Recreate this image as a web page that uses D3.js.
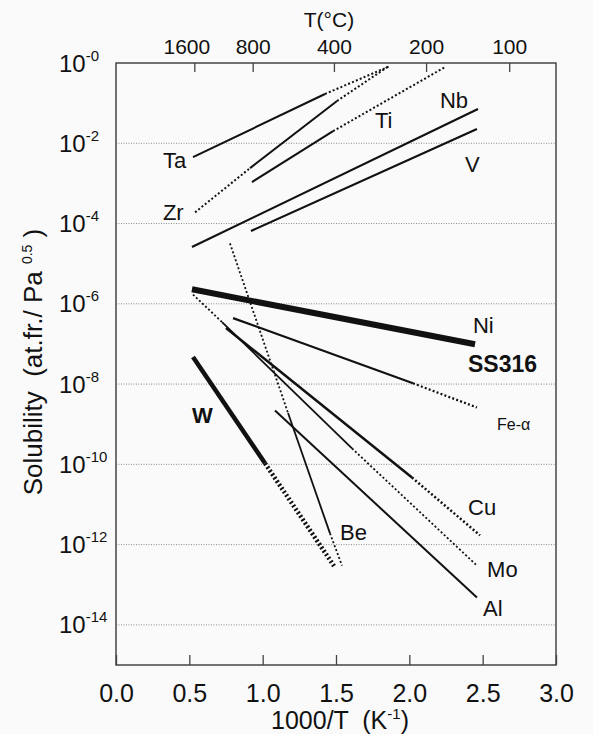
<!DOCTYPE html>
<html>
<head>
<meta charset="utf-8">
<script src="https://cdn.jsdelivr.net/npm/d3@7"></script>
<style>
body { margin: 0; background: #fafafa; }
text { font-family: "Liberation Sans", Arial, sans-serif; fill: #111; }
</style>
</head>
<body>
<script>
//break points of each curve: 1000/T (K^-1) and solubility (at.fr./Pa^0.5)
var ta_x = [0.525, 1.425, 1.868],
    ta_s = [4.5e-3, 0.169, 0.84];
var zr_x = [0.539, 0.914, 1.507, 1.861],
    zr_s = [1.9e-4, 2.4e-3, 0.113, 0.84];
var ti_x = [0.927, 1.480, 2.243],
    ti_s = [1.08e-3, 2.0e-2, 0.79];
var nb_x = [0.518, 2.468],
    nb_s = [2.6e-5, 7.1e-2];
var v_x = [0.920, 2.461],
    v_s = [6.5e-5, 2.26e-2];
var ni_x = [0.518, 2.448],
    ni_s = [2.3e-6, 9.8e-8];
var fe_x = [0.798, 2.025, 2.461],
    fe_s = [4.4e-7, 1.05e-8, 2.6e-9];
var mo_x = [0.525, 0.723, 1.609, 2.461],
    mo_s = [1.7e-6, 3.5e-7, 2.5e-10, 3.0e-13];
var cu_x = [0.750, 2.018, 2.482],
    cu_s = [2.5e-7, 4.7e-11, 1.7e-12];
var al_x = [1.084, 2.461],
    al_s = [2.2e-9, 4.8e-14];
var w_x = [0.525, 1.016, 1.493],
    w_s = [4.7e-8, 1.06e-10, 2.7e-13];
var be_x = [0.777, 1.173, 1.459, 1.541],
    be_s = [3.2e-5, 1.9e-9, 1.9e-12, 3.0e-13];

//axis ticks
var xTicks = [0, 0.5, 1, 1.5, 2, 2.5, 3];
var tempTicks = [1600, 800, 400, 200, 100];
var yExps = [0, -2, -4, -6, -8, -10, -12, -14];

//curve labels, anchored in data units (left of text, baseline)
var labelText = ["Ta", "Zr", "Ti", "Nb", "V", "Ni", "SS316", "Fe-α", "W", "Cu", "Be", "Mo", "Al"];
var labelX = [0.32, 0.32, 1.766, 2.209, 2.379, 2.434, 2.40, 2.598, 0.518, 2.40, 1.527, 2.53, 2.502];
var labelS = [2.4e-3, 1.22e-4, 2.39e-2, 7.55e-2, 1.91e-3, 1.85e-7, 1.97e-8, 7.05e-10, 1.05e-9, 5.35e-12, 1.27e-12, 1.52e-13, 1.71e-14];

//segment styles for each curve
var curves = [
    {x: ta_x, s: ta_s, w: 2, seg: ["solid", "dot"]},
    {x: zr_x, s: zr_s, w: 2, seg: ["dot", "solid", "dot"]},
    {x: ti_x, s: ti_s, w: 2, seg: ["solid", "dot"]},
    {x: nb_x, s: nb_s, w: 2.2, seg: ["solid"]},
    {x: v_x, s: v_s, w: 2.2, seg: ["solid"]},
    {x: ni_x, s: ni_s, w: 6, seg: ["solid"]},
    {x: fe_x, s: fe_s, w: 2.2, seg: ["solid", "dot"]},
    {x: mo_x, s: mo_s, w: 1.8, seg: ["dot", "solid", "dot"]},
    {x: cu_x, s: cu_s, w: 2.5, seg: ["solid", "dot"]},
    {x: al_x, s: al_s, w: 2, seg: ["solid"]},
    {x: w_x, s: w_s, w: 4.5, seg: ["solid", "dot"]},
    {x: be_x, s: be_s, w: 1.8, seg: ["dot", "solid", "dot"]}
];
var labelStyle = {"SS316": {size: 23, weight: "bold"}, "W": {size: 22, weight: "bold"}, "Fe-α": {size: 16, weight: "normal"}};

var width = 593,
    height = 734;

var svg = d3.select("body")
    .append("svg")
    .attr("width", width)
    .attr("height", height);

var x = d3.scaleLinear().domain([0, 3]).range([116, 556]);
var y = d3.scaleLog().domain([1e-15, 1]).range([665, 63]);

//dotted grid lines every two decades
svg.append("g")
    .selectAll("line")
    .data(yExps.slice(1))
    .enter()
    .append("line")
    .attr("x1", x(0))
    .attr("x2", x(3))
    .attr("y1", function(d){ return y(Math.pow(10, d)); })
    .attr("y2", function(d){ return y(Math.pow(10, d)); })
    .attr("stroke", "#8a8a8a")
    .attr("stroke-width", 1)
    .attr("stroke-dasharray", "1,1.5");

//bottom axis, ticks pointing in
var bottomAx = svg.append("g")
    .attr("transform", "translate(0," + y(1e-15) + ")")
    .call(d3.axisBottom(x).tickValues(xTicks).tickSize(-10).tickPadding(19).tickFormat(d3.format(".1f")));
bottomAx.select(".domain").remove();
bottomAx.selectAll("line").attr("stroke", "#444").attr("stroke-width", 1.3);
bottomAx.selectAll("text").style("font-size", "25px").attr("fill", "#111");

//top axis in degrees C
var topAx = svg.append("g")
    .attr("transform", "translate(0," + y(1) + ")")
    .call(d3.axisTop(x).tickValues(tempTicks.map(function(t){ return 1000 / (t + 273); }))
        .tickSize(-9).tickPadding(9)
        .tickFormat(function(d, i){ return tempTicks[i]; }));
topAx.select(".domain").remove();
topAx.selectAll("line").attr("stroke", "#444").attr("stroke-width", 1.3);
topAx.selectAll("text").style("font-size", "21px").attr("fill", "#111")
    .attr("dx", function(d, i){ return i == 0 ? -8 : 0; });

//frame
svg.append("rect")
    .attr("x", x(0))
    .attr("y", y(1))
    .attr("width", x(3) - x(0))
    .attr("height", y(1e-15) - y(1))
    .attr("fill", "none")
    .attr("stroke", "#444")
    .attr("stroke-width", 1.5);

//y tick labels 10^n
var yl = svg.append("g")
    .selectAll("text")
    .data(yExps)
    .enter()
    .append("text")
    .attr("x", 59)
    .attr("y", function(d){ return y(Math.pow(10, d)) + 8.5; })
    .style("font-size", "24px");
yl.append("tspan").text("10");
yl.append("tspan")
    .attr("dy", -11)
    .style("font-size", "15px")
    .text(function(d){ return "-" + Math.abs(d); });

//curves, one path per segment
var line = d3.line()
    .x(function(d){ return x(d[0]); })
    .y(function(d){ return y(d[1]); });

curves.forEach(function(c){
    c.seg.forEach(function(style, i){
        var pts = [[c.x[i], c.s[i]], [c.x[i + 1], c.s[i + 1]]];
        svg.append("path")
            .attr("d", line(pts))
            .attr("fill", "none")
            .attr("stroke", "#111")
            .attr("stroke-width", c.w)
            .attr("stroke-dasharray", style == "dot" ? "2,2.2" : null);
    });
});

//curve labels
svg.append("g")
    .selectAll("text")
    .data(labelText)
    .enter()
    .append("text")
    .attr("x", function(d, i){ return x(labelX[i]); })
    .attr("y", function(d, i){ return y(labelS[i]); })
    .style("font-size", function(d){ return (labelStyle[d] ? labelStyle[d].size : 22) + "px"; })
    .style("font-weight", function(d){ return labelStyle[d] ? labelStyle[d].weight : "normal"; })
    .text(function(d){ return d; });

//axis titles
var yt = svg.append("text")
    .attr("transform", "translate(42,362) rotate(-90)")
    .attr("text-anchor", "middle")
    .style("font-size", "26px")
    .style("white-space", "pre");
yt.append("tspan").text("Solubility  (at.fr./ Pa ");
yt.append("tspan").attr("dy", -10).style("font-size", "14px").text("0.5");
yt.append("tspan").attr("dy", 10).text(" )");

var xt = svg.append("text")
    .attr("x", 340)
    .attr("y", 729)
    .attr("text-anchor", "middle")
    .style("font-size", "25px")
    .style("white-space", "pre");
xt.append("tspan").text("1000/T  (K");
xt.append("tspan").attr("dy", -10).style("font-size", "15px").text("-1");
xt.append("tspan").attr("dy", 10).text(")");

svg.append("text")
    .attr("x", 329)
    .attr("y", 27)
    .attr("text-anchor", "middle")
    .style("font-size", "21px")
    .text("T(°C)");
</script>
</body>
</html>
